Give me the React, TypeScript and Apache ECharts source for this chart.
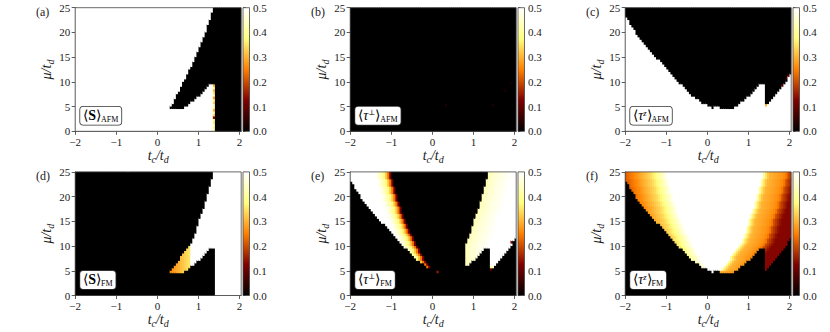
import { useEffect, useRef } from 'react';
import * as echarts from 'echarts';

// ---- grid of the maps (tc columns, mu rows) ----
const TC0 = -1.975;
const DTC = 0.05;
const NC = 81;
const DMU = 0.5;
const NR = 50;

// lower phase boundary mu_B(tc) per column (tc = -1.975 ... 2.025)
const B_CURVE = [
  23.05, 22.35, 21.7, 21.0, 20.4, 19.7, 19.15, 18.65, 18.15, 17.65,
  17.15, 16.65, 16.1, 15.6, 15.1, 14.7, 14.25, 13.75, 13.3, 12.85,
  12.4, 12.0, 11.55, 11.05, 10.6, 10.1, 9.7, 9.3, 8.9, 8.45,
  8.0, 7.6, 7.2, 6.9, 6.55, 6.25, 5.95, 5.7, 5.5, 5.3,
  5.0, 5.0, 4.5, 5.0, 5.0, 5.0, 4.5, 4.5, 4.5, 4.5,
  4.5, 4.5, 4.5, 5.0, 5.0, 5.3, 5.8, 6.1, 6.5, 6.8,
  7.2, 7.7, 8.1, 8.5, 8.9, 9.3, 9.6, 9.7, 5.0, 5.7,
  6.2, 6.7, 7.2, 7.7, 8.1, 8.5, 9.0, 9.6, 10.2, 10.9,
  11.6,
];
// left band upper edge (columns tc = -1.975 ... 0.025)
const R_LINE = [
  25, 25, 25, 25, 25, 25, 25, 25, 25, 25,
  25, 25, 25, 25, 25, 25, 25, 25, 25, 24.8,
  23.7, 22.2, 20.7, 19.2, 17.9, 16.7, 15.4, 14.4, 13.5, 12.7,
  11.9, 11.0, 10.2, 9.4, 8.65, 7.9, 7.1, 6.45, 6.0, 5.5,
  5.0,
];
// (a) black wedge upper edge, columns tc = 0.325 ... 1.375
const T_AFM = [
  5.0, 5.5, 6.4, 7.3, 8.2, 9.0, 9.8, 10.7, 11.5, 12.4,
  13.2, 14.0, 14.9, 15.8, 16.8, 17.8, 18.9, 20.1, 21.4, 22.6,
  23.9, 25.0,
];
// orange triangle upper edge, columns tc = 0.325 ... 0.775
const O_LINE = [4.8, 5.3, 5.9, 6.5, 7.1, 7.8, 8.4, 9.0, 9.6, 10.2];
// FM white region left edge, columns tc = 0.825 ... 1.375
const W_LINE = [10.7, 11.6, 12.6, 13.9, 15.3, 16.5, 17.7, 19.0, 20.5, 22.0, 23.6, 25.0];
const COL_T = 46;
const COL_O = 46;
const COL_W = 56;
const COL_JUMP = 68;
const COL_R_END = 40;

// value profiles read across the colored bands (cells counted from the band edge)
const E_LEFT_PROFILE = [0.12, 0.24, 0.32, 0.37, 0.41, 0.44, 0.47, 0.49, 0.5];
const E_RIGHT_PROFILE = [0.43, 0.44, 0.45, 0.46, 0.46, 0.47, 0.47, 0.48, 0.48, 0.49, 0.49, 0.5];
const F_LEFT_PROFILE = [0.47, 0.45, 0.43, 0.41, 0.39, 0.37, 0.355, 0.34, 0.33, 0.32, 0.31, 0.3, 0.29, 0.28, 0.27, 0.26, 0.25, 0.24, 0.23, 0.22];
const F_RIGHT_PROFILE = [0.4, 0.35, 0.32, 0.3, 0.295, 0.29, 0.285, 0.28, 0.275, 0.27, 0.26, 0.24, 0.2, 0.18, 0.16, 0.14, 0.13];
const D_TRIANGLE = [0.26, 0.27, 0.28, 0.29, 0.3, 0.31, 0.32, 0.33, 0.34, 0.35];
const A_COLUMN = [0.42, 0.38, 0.45, 0.36, 0.4, 0.12, 0.34, 0.41, 0.3, 0.38, 0.44, 0.33, 0.39, 0.28, 0.42, 0.35, 0.31, 0.4, 0.3];
const B_DOTS = [[0.325, 5.25, 0.03], [1.475, 5.25, 0.03], [1.775, 8.25, 0.03], [1.925, 9.75, 0.02]];
const C_DOTS = [[1.425, 5.25, 0.3], [1.825, 9.25, 0.08], [1.925, 10.75, 0.06], [1.975, 11.25, 0.1]];
const E_DOTS = [[0.125, 4.75, 0.15], [1.425, 5.25, 0.1], [1.925, 10.75, 0.12]];

const X_TICKS = [-2, -1, 0, 1, 2];
const Y_TICKS = [0, 5, 10, 15, 20, 25];
const PANEL_LABELS = ['(a)', '(b)', '(c)', '(d)', '(e)', '(f)'];
const AFMHOT = ['#000000', '#800000', '#ff8000', '#ffff80', '#ffffff'];

const FONT = 'Liberation Serif';
const INK = '#1a1a1a';

const tcOf = (c: number) => TC0 + DTC * c;
const muOf = (r: number) => 0.25 + DMU * r;
const pick = (arr: number[], i: number) => arr[Math.min(i, arr.length - 1)];

function grid2(fn: (c: number, r: number, m: number) => number) {
  const v: number[][] = [];
  for (let c = 0; c < NC; c++) {
    v.push([]);
    for (let r = 0; r < NR; r++) v[c].push(fn(c, r, muOf(r)));
  }
  return v;
}
function addDots(v: number[][], dots: number[][]) {
  dots.forEach(([t, m, val]) => {
    const c = Math.round((t - TC0) / DTC);
    const r = Math.round((m - 0.25) / DMU);
    if (v[c] && v[c][r] !== undefined) v[c][r] = val;
  });
}
const above = (c: number, m: number) => m > B_CURVE[c];
const inLeftBand = (c: number, m: number) => c <= COL_R_END && above(c, m) && m < R_LINE[c];
const leftEdgeCol = (m: number) => {
  for (let c = 0; c < NC; c++) if (c > COL_R_END || R_LINE[c] <= m) return c;
  return NC;
};

function panelA() {
  return grid2((c, r, m) => {
    if (c >= COL_JUMP) return 0;
    if (c === COL_JUMP - 1) return m < B_CURVE[c] ? A_COLUMN[r] : 0;
    if (c >= COL_T) return above(c, m) && m < T_AFM[c - COL_T] ? 0 : 0.5;
    return 0.5;
  });
}
function panelB() {
  const v = grid2(() => 0);
  addDots(v, B_DOTS);
  return v;
}
function panelC() {
  const v = grid2((c, r, m) => (above(c, m) ? 0 : 0.5));
  addDots(v, C_DOTS);
  return v;
}
function panelD() {
  return grid2((c, r, m) => {
    if (c >= COL_JUMP) return 0.5;
    if (c >= COL_W) return above(c, m) && m < W_LINE[c - COL_W] ? 0.5 : 0;
    if (c >= COL_O) return above(c, m) && m < O_LINE[c - COL_O] ? D_TRIANGLE[c - COL_O] : 0;
    return 0;
  });
}
const inRightBand = (c: number, m: number) =>
  above(c, m) && (c >= COL_JUMP || (c >= COL_W && m < W_LINE[c - COL_W]));
function panelE() {
  const v = grid2(() => 0);
  for (let r = 0; r < NR; r++) {
    const m = muOf(r);
    const edge = leftEdgeCol(m);
    let first = -1;
    for (let c = 0; c < NC; c++) {
      if (inLeftBand(c, m)) v[c][r] = pick(E_LEFT_PROFILE, edge - 1 - c);
      else if (inRightBand(c, m)) {
        if (first < 0) first = c;
        v[c][r] = pick(E_RIGHT_PROFILE, c - first);
      }
    }
  }
  addDots(v, E_DOTS);
  return v;
}
const isCore = (c: number, m: number) => {
  if (!above(c, m) || inLeftBand(c, m)) return false;
  if (c < COL_O) return true;
  if (c < COL_W) return m > O_LINE[c - COL_O];
  if (c < COL_JUMP) return m > W_LINE[c - COL_W];
  return false;
};
function panelF() {
  const v = grid2(() => 0);
  for (let r = 0; r < NR; r++) {
    const m = muOf(r);
    const edge = leftEdgeCol(m);
    let lastCore = -1;
    for (let c = 0; c < NC; c++) if (isCore(c, m)) lastCore = c;
    for (let c = 0; c < NC; c++) {
      if (!above(c, m)) continue;
      if (inLeftBand(c, m)) v[c][r] = pick(F_LEFT_PROFILE, edge - 1 - c);
      else if (isCore(c, m)) v[c][r] = 0.5;
      else v[c][r] = pick(F_RIGHT_PROFILE, Math.max(0, c - lastCore - 1));
    }
  }
  return v;
}

function runs(v: number[][]) {
  const out: number[][] = [];
  for (let c = 0; c < NC; c++) {
    let start = 0;
    for (let r = 1; r <= NR; r++) {
      if (r === NR || v[c][r] !== v[c][start]) {
        out.push([tcOf(c), start * DMU, r * DMU, v[c][start]]);
        start = r;
      }
    }
  }
  return out;
}

const MAIN = { fontFamily: FONT, fontSize: 14, fontStyle: 'italic', color: INK, lineHeight: 16, verticalAlign: 'top' };
const SUB = { fontFamily: FONT, fontSize: 10, fontStyle: 'italic', color: INK, lineHeight: 10, padding: [6, 0, 0, 0], verticalAlign: 'bottom' };
const AXIS_RICH = { i: MAIN, s: SUB };

const LEG_RICH = {
  m: { fontFamily: FONT, fontSize: 14, color: INK, lineHeight: 15, verticalAlign: 'top' },
  b: { fontFamily: FONT, fontSize: 14, fontWeight: 'bold', color: INK, lineHeight: 15, verticalAlign: 'top' },
  t: { fontFamily: FONT, fontSize: 14, fontStyle: 'italic', color: INK, lineHeight: 15, verticalAlign: 'top' },
  p: { fontFamily: FONT, fontSize: 8.5, fontStyle: 'italic', color: INK, lineHeight: 8, verticalAlign: 'top' },
  q: { fontFamily: 'DejaVu Serif', fontSize: 7.5, color: INK, lineHeight: 8, verticalAlign: 'top' },
  s: { fontFamily: FONT, fontSize: 8, color: INK, lineHeight: 8, padding: [7, 0, 0, 0], verticalAlign: 'bottom' },
};
const LEGENDS = [
  '{m|⟨}{b|S}{m|⟩}{s|AFM}',
  '{m|⟨}{t|τ}{q|⊥}{m|⟩}{s|AFM}',
  '{m|⟨}{t|τ}{p|z}{m|⟩}{s|AFM}',
  '{m|⟨}{b|S}{m|⟩}{s|FM}',
  '{m|⟨}{t|τ}{q|⊥}{m|⟩}{s|FM}',
  '{m|⟨}{t|τ}{p|z}{m|⟩}{s|FM}',
];

const fmtX = (v: number) => (v < 0 ? '\u2212' + Math.abs(v) : String(v));

export default function App() {
  const ref = useRef<HTMLDivElement>(null);
  useEffect(() => {
    if (!ref.current) return;
    const chart = echarts.init(ref.current, null, { renderer: 'svg' });
    const panels = [panelA(), panelB(), panelC(), panelD(), panelE(), panelF()];
    const grids: any[] = [];
    const xAxes: any[] = [];
    const yAxes: any[] = [];
    const series: any[] = [];
    const visualMaps: any[] = [];
    const graphics: any[] = [];
    const W = 166;
    const H = 123.6;
    panels.forEach((vals, i) => {
      const col = i % 3;
      const row = Math.floor(i / 3);
      const left = 75.2 + 275 * col;
      const top = row === 0 ? 7.7 : 171.9;
      const cbLeft = 243 + 275 * col;
      grids.push({ left, top, width: W, height: H });
      grids.push({ left: cbLeft, top, width: 6.5, height: H });
      const gi = 2 * i;
      const lineStyle = { color: '#333', width: 0.8 };
      const labelStyle = { fontFamily: FONT, fontSize: 11, color: INK };
      xAxes.push({
        gridIndex: gi, type: 'value', min: -2, max: 2.04,
        axisLine: { show: true, onZero: false, lineStyle },
        axisTick: { show: true, length: 3.5, customValues: X_TICKS, lineStyle },
        axisLabel: { ...labelStyle, customValues: X_TICKS, formatter: fmtX, margin: 5 },
        splitLine: { show: false },
        name: '{i|t}{s|c}{i|/t}{s|d}', nameLocation: 'middle', nameGap: 17,
        nameTextStyle: { rich: AXIS_RICH },
      });
      yAxes.push({
        gridIndex: gi, type: 'value', min: 0, max: 25, interval: 5,
        axisLine: { show: true, onZero: false, lineStyle },
        axisTick: { show: true, length: 3.5, lineStyle },
        axisLabel: { ...labelStyle, margin: 5, customValues: Y_TICKS },
        splitLine: { show: false },
        name: '{i|μ/t}{s|d}', nameLocation: 'middle', nameGap: 18, nameRotate: 90,
        nameTextStyle: { rich: AXIS_RICH },
      });
      xAxes.push({ gridIndex: gi + 1, type: 'value', min: 0, max: 1, show: false });
      yAxes.push({
        gridIndex: gi + 1, type: 'value', min: 0, max: 0.5, interval: 0.1, position: 'right',
        axisLine: { show: false },
        axisTick: { show: true, length: 2.5, lineStyle },
        axisLabel: { ...labelStyle, margin: 3.5, formatter: (v: number) => v.toFixed(1) },
        splitLine: { show: false },
      });
      series.push({
        type: 'custom', xAxisIndex: gi, yAxisIndex: gi,
        data: runs(vals),
        dimensions: ['tc', 'm0', 'm1', 'v'],
        encode: { x: 0, y: [1, 2] },
        renderItem: (params: any, api: any) => {
          const cs = params.coordSys;
          const t = api.value(0);
          const p0 = api.coord([t - DTC / 2, api.value(1)]);
          const p1 = api.coord([t + DTC / 2, api.value(2)]);
          const x0 = p0[0];
          if (x0 >= cs.x + cs.width) return null;
          const x1 = Math.min(p1[0] + 1, cs.x + cs.width);
          const y0 = Math.max(p1[1] - 1, cs.y);
          const y1 = p0[1];
          return {
            type: 'rect',
            shape: { x: x0, y: y0, width: x1 - x0, height: y1 - y0 },
            style: { fill: api.visual('color'), stroke: null },
          };
        },
      });
      visualMaps.push({
        type: 'continuous', show: false, seriesIndex: i, dimension: 3,
        min: 0, max: 0.5, inRange: { color: AFMHOT },
      });
      graphics.push({
        type: 'rect', z: 100,
        shape: { x: left, y: top, width: W, height: H },
        style: { fill: 'none', stroke: '#444', lineWidth: 0.8 },
      });
      graphics.push({
        type: 'rect', z: 100,
        shape: { x: cbLeft, y: top, width: 6.5, height: H },
        style: {
          fill: new echarts.graphic.LinearGradient(0, 1, 0, 0, AFMHOT.map((c, k) => ({ offset: k / 4, color: c }))),
          stroke: '#444', lineWidth: 0.8,
        },
      });
      graphics.push({
        type: 'text', z: 110, x: left + 5, y: top + 99,
        style: {
          text: LEGENDS[i], rich: LEG_RICH, align: 'left', verticalAlign: 'top',
          backgroundColor: '#fff', borderColor: '#333', borderWidth: 0.8, borderRadius: 3,
          padding: [2, 3, 1, 3],
        },
      });
      graphics.push({
        type: 'text', z: 110, x: 36 + 275 * col, y: top + 4,
        style: { text: PANEL_LABELS[i], fontFamily: FONT, fontSize: 12, fill: INK, align: 'left', verticalAlign: 'middle' },
      });
    });
    chart.setOption({
      animation: false,
      backgroundColor: '#fff',
      grid: grids,
      xAxis: xAxes,
      yAxis: yAxes,
      series,
      visualMap: visualMaps,
      graphic: graphics,
    });
    return () => chart.dispose();
  }, []);
  return <div ref={ref} style={{ position: 'fixed', left: 0, top: 0, width: 830, height: 332 }} />;
}
